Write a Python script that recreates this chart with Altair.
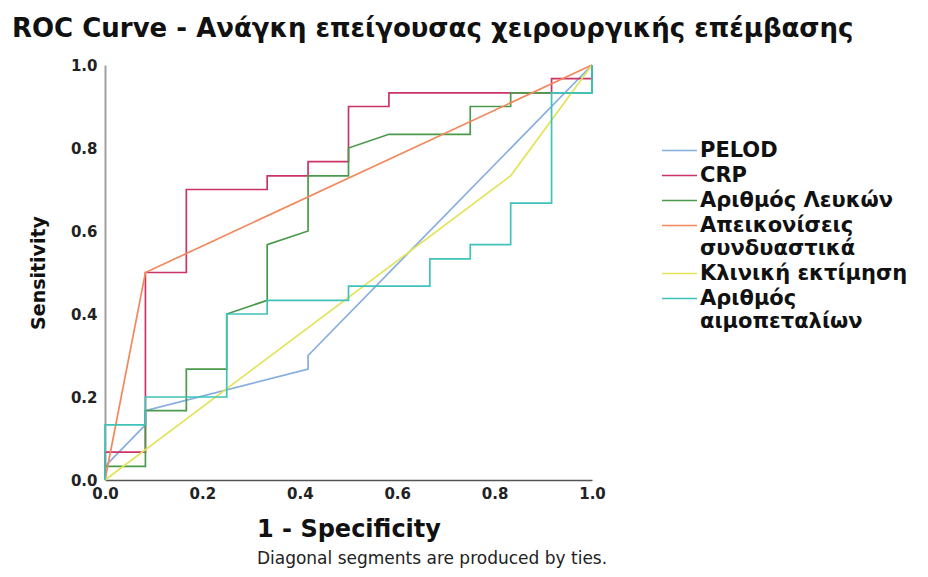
import altair as alt
import pandas as pd

series_names = ["PELOD", "CRP", "Αριθμός Λευκών", "Απεικονίσεις|συνδυαστικά",
                "Κλινική εκτίμηση", "Αριθμός|αιμοπεταλίων"]
series_colors = ["#86aee0", "#cc3366", "#4b9a4b", "#f2895c", "#e3e35a", "#3fc2b9"]

pelod_x = [0, 0, 0.083, 0.083, 0.417, 0.417, 1.0]
pelod_y = [0, 0.033, 0.133, 0.167, 0.267, 0.3, 1.0]

crp_x = [0, 0, 0.083, 0.083, 0.167, 0.167, 0.333, 0.333, 0.417, 0.417, 0.5, 0.5,
         0.583, 0.583, 0.917, 0.917, 1.0, 1.0]
crp_y = [0, 0.067, 0.067, 0.5, 0.5, 0.7, 0.7, 0.733, 0.733, 0.767, 0.767, 0.9,
         0.9, 0.933, 0.933, 0.967, 0.967, 1.0]

wbc_x = [0, 0, 0.083, 0.083, 0.167, 0.167, 0.25, 0.25, 0.333, 0.333, 0.417, 0.417,
         0.5, 0.5, 0.583, 0.75, 0.75, 0.833, 0.833, 1.0, 1.0]
wbc_y = [0, 0.033, 0.033, 0.167, 0.167, 0.267, 0.267, 0.4, 0.433, 0.567, 0.6, 0.733,
         0.733, 0.8, 0.833, 0.833, 0.9, 0.9, 0.933, 0.933, 1.0]

img_x = [0, 0.083, 1.0]
img_y = [0, 0.5, 1.0]

clin_x = [0, 0.833, 1.0]
clin_y = [0, 0.733, 1.0]

plt_x = [0, 0, 0.083, 0.083, 0.25, 0.25, 0.333, 0.333, 0.5, 0.5, 0.667, 0.667,
         0.75, 0.75, 0.833, 0.833, 0.917, 0.917, 1.0, 1.0]
plt_y = [0, 0.133, 0.133, 0.2, 0.2, 0.4, 0.4, 0.433, 0.433, 0.467, 0.467, 0.533,
         0.533, 0.567, 0.567, 0.667, 0.667, 0.933, 0.933, 1.0]

tick_values = [0.0, 0.2, 0.4, 0.6, 0.8, 1.0]

all_x = [pelod_x, crp_x, wbc_x, img_x, clin_x, plt_x]
all_y = [pelod_y, crp_y, wbc_y, img_y, clin_y, plt_y]

rows = []
for name, xs, ys in zip(series_names, all_x, all_y):
    for i, (xv, yv) in enumerate(zip(xs, ys)):
        rows.append({"series": name, "fpr": xv, "tpr": yv, "idx": i})
df = pd.DataFrame(rows)

FONT = "DejaVu Sans"

lines = alt.Chart(df).mark_line(strokeWidth=1.7, clip=False).encode(
    x=alt.X("fpr:Q", scale=alt.Scale(domain=[0, 1], nice=False),
            axis=alt.Axis(values=tick_values, format=".1f", title="1 - Specificity",
                          grid=False, ticks=False, labelPadding=6, labelFlush=False,
                          labelFont=FONT, labelFontWeight="bold", labelFontSize=15,
                          labelColor="#222222", domainColor="#555555", domainWidth=1.5,
                          titleFont=FONT, titleFontWeight="bold", titleFontSize=24,
                          titleColor="#111111", titlePadding=16)),
    y=alt.Y("tpr:Q", scale=alt.Scale(domain=[0, 1], nice=False),
            axis=alt.Axis(values=tick_values, format=".1f", title="Sensitivity",
                          grid=False, ticks=False, labelPadding=8, labelFlush=False,
                          labelFont=FONT, labelFontWeight="bold", labelFontSize=15,
                          labelColor="#222222", domainColor="#a0a0a0", domainWidth=2,
                          titleFont=FONT, titleFontWeight="bold", titleFontSize=19,
                          titleColor="#111111", titlePadding=22)),
    color=alt.Color("series:N",
                    scale=alt.Scale(domain=series_names, range=series_colors),
                    sort=series_names,
                    legend=alt.Legend(title=None, orient="none", legendX=564, legendY=75,
                                      labelExpr="split(datum.label, '|')",
                                      symbolType="M-2,0H2", symbolSize=306,
                                      symbolStrokeWidth=1.5, labelFont=FONT,
                                      labelFontWeight="bold", labelFontSize=21,
                                      labelColor="#111111", labelLimit=400,
                                      labelOffset=10, rowPadding=3)),
    order="idx:Q",
)

note_df = pd.DataFrame({"t": ["Diagonal segments are produced by ties."]})
note = alt.Chart(note_df).mark_text(font=FONT, fontSize=17, color="#222222",
                                    baseline="alphabetic", align="center").encode(
    text="t:N", x=alt.value(327), y=alt.value(499)
)

chart = alt.layer(lines, note).properties(
    width=487, height=415,
    title=alt.TitleParams("ROC Curve - Ανάγκη επείγουσας χειρουργικής επέμβασης",
                          anchor="start", frame="group", font=FONT, fontSize=26,
                          fontWeight="bold", color="#111111", dx=-93, offset=16),
    autosize=alt.AutoSizeParams(type="none"),
    padding={"left": 97, "top": 57, "right": 328, "bottom": 88},
).configure_view(stroke=None)

chart.save("out.html", embed_options={"renderer": "svg", "actions": False})
